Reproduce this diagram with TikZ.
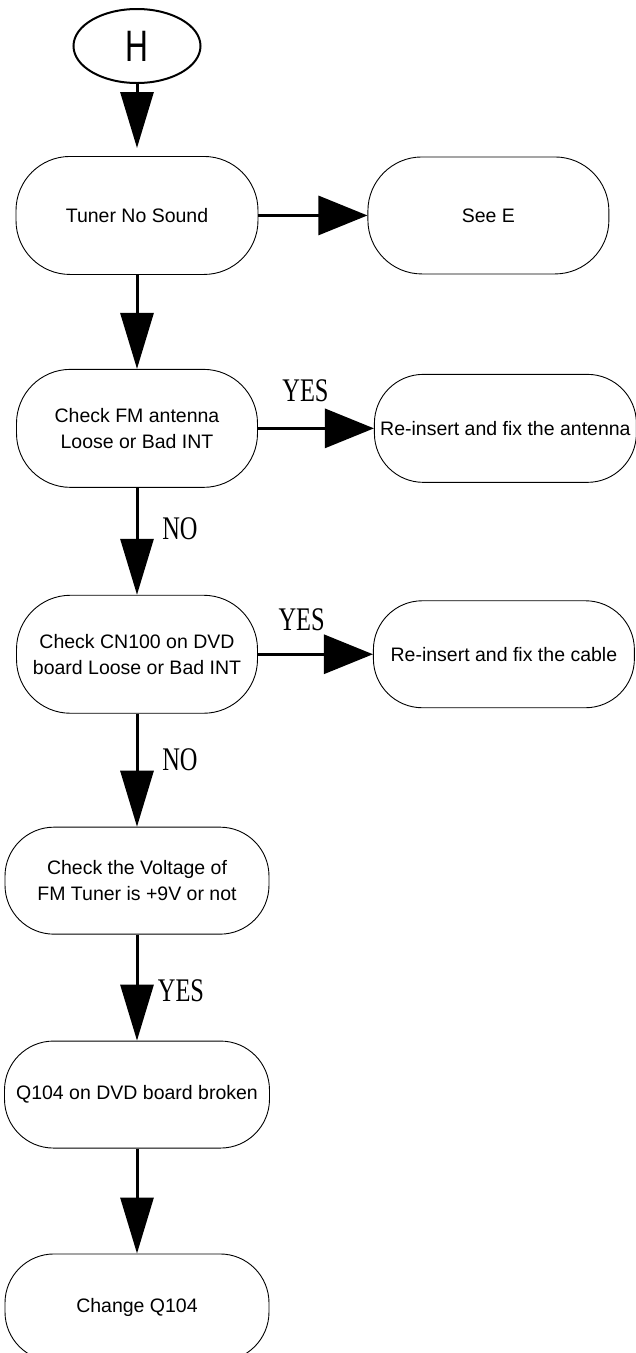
\documentclass[tikz,border=0pt]{standalone}
\usepackage{fontspec}
\setmainfont{Liberation Sans}
\newfontfamily\labelfont[FakeStretch=0.74]{Liberation Serif}
\newfontfamily\startfont[FakeStretch=0.72]{Liberation Sans}
\usepackage{tikz}
\usetikzlibrary{
    positioning,     % For relative node placement (e.g., below=of)
    arrows.meta,     % For the big triangle tips
    shapes.geometric % For the start ellipse
}

\begin{document}
\begin{tikzpicture}[x=1pt, y=1pt]

    % --- Style Definitions ---
    \tikzset{
        % The oval holding the entry letter
        start/.style={
            ellipse,
            draw,
            line width=2pt,
            minimum width=127pt,
            minimum height=74pt,
            inner sep=0pt,
            font=\startfont\fontsize{44}{44}\selectfont
        },
        % A general style for the rounded steps
        flowbox/.style={
            rectangle,
            rounded corners=54pt,
            draw,
            line width=0.9pt,
            minimum width=241pt,
            minimum height=118pt,
            inner sep=0pt,
            align=center,
            font=\fontsize{19.5}{26}\selectfont
        },
        % The flatter steps further down
        lowbox/.style={
            flowbox,
            rounded corners=49pt,
            minimum width=264pt,
            minimum height=107pt
        },
        % Arrows down the main column
        arrow/.style={
            -{Triangle[length=56pt, width=33pt]},
            line width=3pt,
            black
        },
        % Arrows out to the side
        sidearrow/.style={
            -{Triangle[length=49pt, width=39pt]},
            line width=3pt,
            black
        },
        % YES / NO labels
        answer/.style={
            font=\labelfont\fontsize{33}{33}\selectfont,
            inner sep=0pt
        }
    }

    \useasboundingbox (0,0) rectangle (635,-1353);

    % --- Node Placement ---
    \node[start] (h) at (137,-46) {H};

    \node[flowbox, minimum width=242pt, below=72pt of h] (tuner) {Tuner No Sound};
    \node[flowbox, below=94pt of tuner] (fmcheck) {Check FM antenna\\Loose or Bad INT};
    \node[flowbox, below=107pt of fmcheck] (cncheck) {Check CN100 on DVD\\board Loose or Bad INT};
    \node[lowbox, below=113pt of cncheck] (voltcheck) {Check the Voltage of\\FM Tuner is +9V or not};
    \node[lowbox, minimum width=265pt, below=106pt of voltcheck] (qbroken) {Q104 on DVD board broken};
    \node[lowbox, below=105pt of qbroken] (qchange) {Change Q104};

    % side boxes
    \node[flowbox, minimum height=117pt, right=109pt of tuner] (seee) {See E};
    \node[flowbox, rounded corners=49pt, minimum width=262pt, minimum height=108pt,
          right=116pt of fmcheck] (antenna) {Re-insert and fix the antenna};
    \node[flowbox, rounded corners=49pt, minimum width=261pt, minimum height=107pt,
          right=115pt of cncheck] (cable) {Re-insert and fix the cable};

    % --- Drawing Connections ---

    % 1. Main vertical flow
    \draw[arrow, shorten >=8pt] (h.south) -- (tuner.north);
    \draw[arrow] (tuner.south) -- (fmcheck.north);
    \draw[arrow] (fmcheck.south) -- node[answer, pos=0.38, xshift=43pt] {NO} (cncheck.north);
    \draw[arrow] (cncheck.south) -- node[answer, pos=0.41, xshift=43pt] {NO} (voltcheck.north);
    \draw[arrow] (voltcheck.south) -- node[answer, pos=0.53, xshift=44pt] {YES} (qbroken.north);
    \draw[arrow] (qbroken.south) -- (qchange.north);

    % 2. Branches to the right
    \draw[sidearrow] (tuner.east) -- (seee.west);
    \draw[sidearrow] (fmcheck.east) -- node[answer, pos=0.41, yshift=38pt] {YES} (antenna.west);
    \draw[sidearrow] (cncheck.east) -- node[answer, pos=0.38, yshift=35pt] {YES} (cable.west);

\end{tikzpicture}
\end{document}
